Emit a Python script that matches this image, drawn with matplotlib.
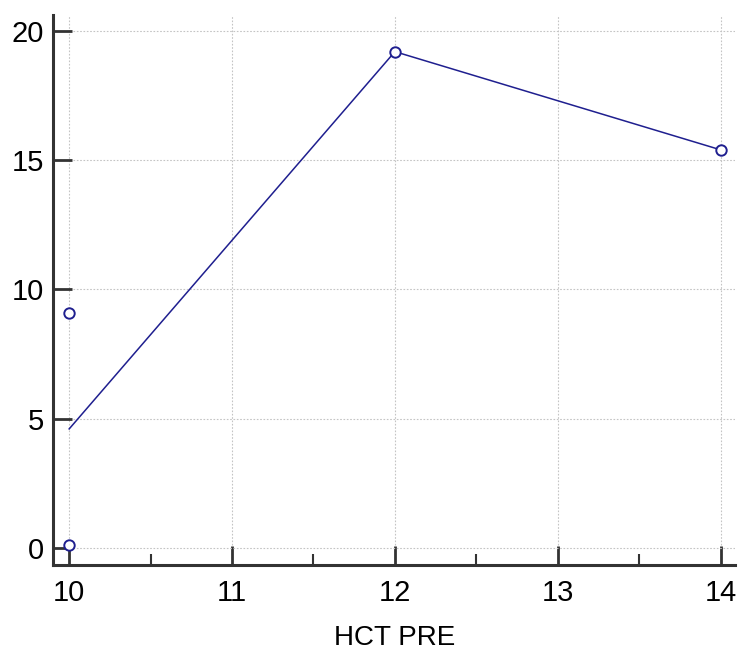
import matplotlib
matplotlib.use("Agg")
import matplotlib.pyplot as plt
from matplotlib.ticker import MultipleLocator

plt.rcParams['font.family'] = ['Liberation Sans', 'DejaVu Sans']

# observations
hct_pre = [10, 10, 12, 14]
values = [0.1, 9.1, 19.2, 15.4]

# line through the mean at each x
line_x = [10, 12, 14]
line_y = [4.6, 19.2, 15.4]

navy = '#1f1f8f'
spine_col = '#333333'

fig = plt.figure(figsize=(7.39, 6.5), dpi=100)
ax = fig.add_axes([0.072, 0.131, 0.923, 0.846])

ax.plot(line_x, line_y, color=navy, lw=1.1, zorder=3)
ax.plot(hct_pre, values, 'o', mfc='white', mec=navy, ms=7.5, mew=1.4, zorder=4)

ax.set_xlim(9.902, 14.09)
ax.set_ylim(-0.66, 20.62)
ax.xaxis.set_major_locator(MultipleLocator(1))
ax.xaxis.set_minor_locator(MultipleLocator(0.5))
ax.yaxis.set_major_locator(MultipleLocator(5))

for s in ['top', 'right']:
    ax.spines[s].set_visible(False)
for s in ['left', 'bottom']:
    ax.spines[s].set_color(spine_col)
    ax.spines[s].set_linewidth(2.2)

ax.tick_params(which='major', direction='in', length=14, width=2, color=spine_col,
               labelsize=21)
ax.tick_params(which='minor', direction='in', length=8, width=1.5, color=spine_col)
ax.tick_params(axis='x', pad=10.5)
ax.tick_params(axis='y', pad=6.5)

ax.grid(True, which='major', color='#c4c4c4', linestyle=(0, (1.5, 1.5)), lw=0.8)
ax.set_axisbelow(True)

ax.set_xlabel('HCT PRE', fontsize=20, labelpad=13)

fig.savefig('out.png', dpi=100)
